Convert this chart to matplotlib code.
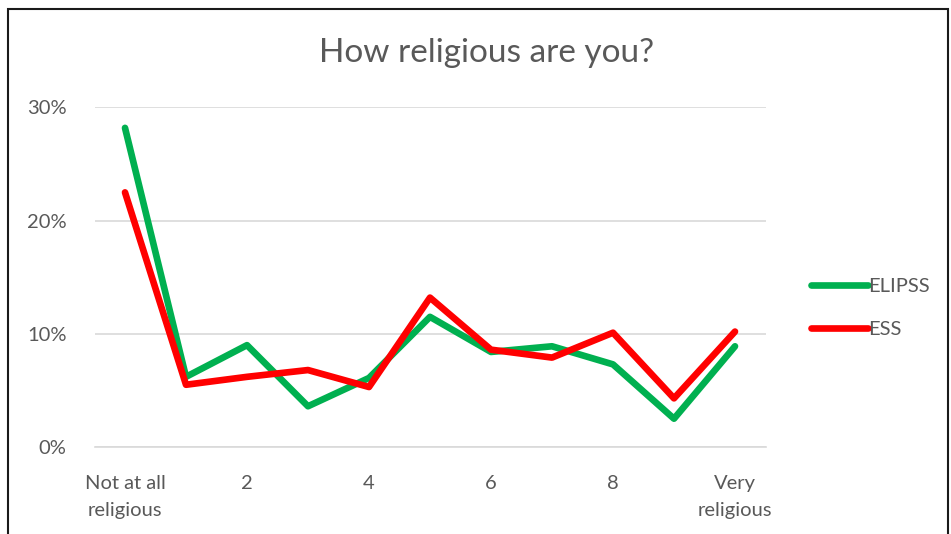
import matplotlib.pyplot as plt
from matplotlib.patches import Rectangle
from matplotlib.ticker import PercentFormatter

categories = ["Not at all\nreligious", "1", "2", "3", "4", "5", "6", "7", "8", "9", "Very\nreligious"]
elipss = [28.2, 6.2, 9.0, 3.6, 6.1, 11.5, 8.4, 8.9, 7.3, 2.5, 8.9]
ess = [22.5, 5.5, 6.2, 6.8, 5.3, 13.2, 8.6, 7.9, 10.1, 4.3, 10.2]
yticks = [0, 10, 20, 30]

plt.rcParams['font.family'] = ['Lato', 'DejaVu Sans']
grey = '#595959'

fig = plt.figure(figsize=(9.51, 5.34), dpi=100)
ax = fig.add_axes([94.5/951, 87/534, 671/951, 339.5/534])

x = list(range(len(categories)))
ax.plot(x, elipss, color='#00B050', lw=4.8, solid_capstyle='round', solid_joinstyle='round', label='ELIPSS')
ax.plot(x, ess, color='#FF0000', lw=4.8, solid_capstyle='round', solid_joinstyle='round', label='ESS')

ax.set_xlim(-0.5, len(categories) - 0.5)
ax.set_ylim(0, 30)
ax.set_yticks(yticks)
ax.yaxis.set_major_formatter(PercentFormatter(decimals=0))
ax.set_xticks(x[::2], categories[::2], linespacing=1.75)
ax.tick_params(length=0, labelsize=14.5, colors=grey)
ax.tick_params(axis='x', pad=20)
ax.tick_params(axis='y', pad=20)
ax.grid(axis='y', color='#D9D9D9', lw=1.2)
ax.set_axisbelow(True)
for s in ['top', 'right', 'left']:
    ax.spines[s].set_visible(False)
ax.spines['bottom'].set_color('#D9D9D9')
ax.spines['bottom'].set_linewidth(1.2)

fig.text(487/951, 1 - 53/534, "How religious are you?", ha='center', va='center', fontsize=24, color=grey)

ax.legend(loc='center left', bbox_to_anchor=(793/951, 1 - 308/534), bbox_transform=fig.transFigure,
          frameon=False, fontsize=14.5, handlelength=2.8, handletextpad=0.05, labelspacing=1.3,
          labelcolor=grey)

fig.patches.append(Rectangle((8/951, -0.1), 940/951, 1.1 - 9/534, transform=fig.transFigure,
                             fill=False, edgecolor='#1a1a1a', lw=1.5))

fig.savefig('out.png', dpi=100)
